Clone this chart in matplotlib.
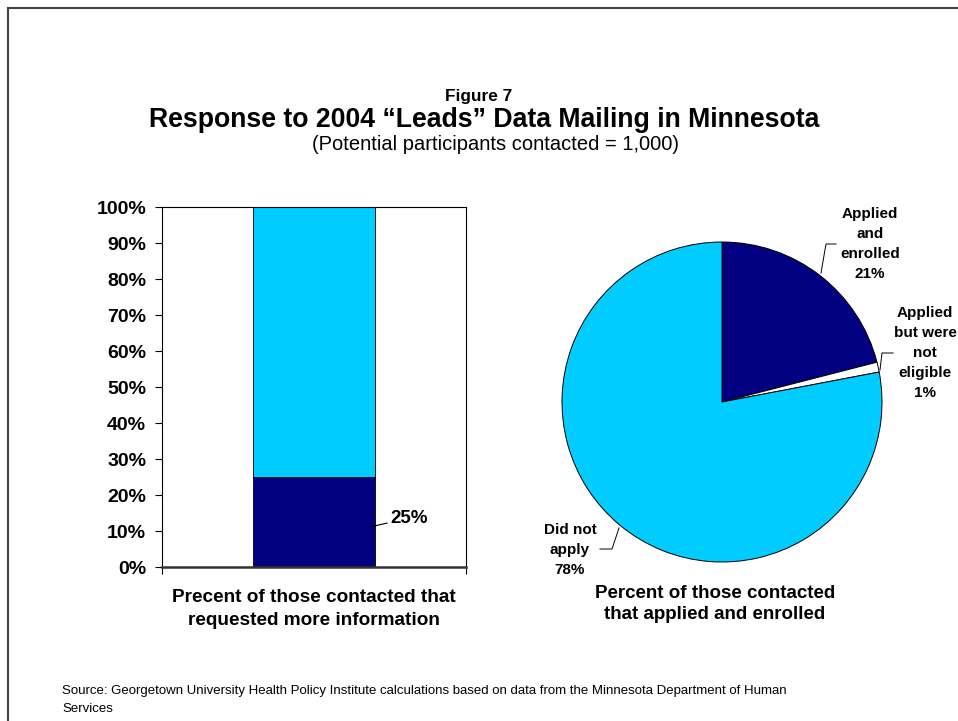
import matplotlib
matplotlib.use("Agg")
import matplotlib.pyplot as plt
from matplotlib.lines import Line2D

plt.rcParams['font.family'] = ['Liberation Sans', 'DejaVu Sans']

# Stacked bar: share of contacts requesting more information
bar_category = ["Precent of those contacted that\nrequested more information"]
requested_pct = [25]
not_requested_pct = [75]
y_ticks = [0, 10, 20, 30, 40, 50, 60, 70, 80, 90, 100]
y_tick_labels = [f"{t}%" for t in y_ticks]

# Pie: outcome of those contacted
pie_labels = ["Applied\nand\nenrolled\n21%", "Applied\nbut were\nnot\neligible\n1%", "Did not\napply\n78%"]
pie_values = [21, 1, 78]
pie_caption = "Percent of those contacted\nthat applied and enrolled"

NAVY = "#000080"
SKY = "#00CCFF"

W, H = 958, 721
fig = plt.figure(figsize=(W / 100, H / 100), dpi=100)

def fx(px):
    return px / W

def fy(py):
    return 1 - py / H

# Page frame (top and left edges)
fig.add_artist(Line2D([fx(8), 1], [fy(8), fy(8)], color="#444444", lw=1.5, transform=fig.transFigure))
fig.add_artist(Line2D([fx(8), fx(8)], [fy(8), 0], color="#444444", lw=1.5, transform=fig.transFigure))

# Titles
fig.text(fx(479), fy(97), "Figure 7", ha="center", va="center", fontsize=12.4, fontweight="bold")
fig.text(fx(484), fy(120), "Response to 2004 \u201cLeads\u201d Data Mailing in Minnesota",
         ha="center", va="center", fontsize=19.2, fontweight="bold")
fig.text(fx(496), fy(144), "(Potential participants contacted = 1,000)",
         ha="center", va="center", fontsize=14.5)

# ---- Bar chart ----
ax = fig.add_axes([fx(162), fy(567), fx(466) - fx(162), fy(207) - fy(567)])
x = [0]
ax.bar(x, requested_pct, width=0.4, color=NAVY, edgecolor="black", linewidth=0.6)
ax.bar(x, not_requested_pct, bottom=requested_pct, width=0.4, color=SKY,
       edgecolor="black", linewidth=0.6)
ax.set_xlim(-0.5, 0.5)
ax.set_ylim(0, 100)
ax.set_yticks(y_ticks)
ax.set_yticklabels(y_tick_labels, fontsize=14, fontweight="bold")
ax.tick_params(axis="y", direction="out", length=5, width=0.8, pad=6.5)
ax.set_xticks([-0.5, 0.5])
ax.set_xticklabels(["", ""])
ax.tick_params(axis="x", direction="out", length=5, width=0.8)
for side in ["top", "right", "left"]:
    ax.spines[side].set_linewidth(0.8)
ax.spines["bottom"].set_linewidth(1.8)
ax.spines["bottom"].set_color("#333333")
ax.annotate(f"{requested_pct[0]}%", xy=(0.184, requested_pct[0] * 0.444),
            xytext=(0.25, requested_pct[0] * 0.544), textcoords="data",
            fontsize=13.5, fontweight="bold", ha="left", va="center",
            arrowprops=dict(arrowstyle="-", color="black", lw=0.8, shrinkA=0, shrinkB=0),
            annotation_clip=False)
fig.text(fx(314), fy(609), bar_category[0], ha="center", va="center",
         fontsize=13.7, fontweight="bold", linespacing=1.45)

# ---- Pie chart ----
cx, cy, r = 722, 402, 160
pax = fig.add_axes([fx(cx - r), fy(cy + r), fx(2 * r), (2 * r) / H])
wedges, _ = pax.pie(pie_values, colors=[NAVY, "white", SKY], startangle=90,
                    counterclock=False, radius=1,
                    wedgeprops=dict(edgecolor="black", linewidth=0.7))
pax.set_xlim(-1, 1)
pax.set_ylim(-1, 1)
pax.set_axis_off()

def d(px, py):
    return ((px - cx) / r, (cy - py) / r)

label_style = dict(fontsize=11, fontweight="bold", ha="center", va="center",
                   linespacing=1.55)
# leader lines: (slice edge point, elbow, end) in pixels
leaders = [
    [(821, 273), (826, 244), (836, 244)],
    [(880, 370), (882, 353), (893, 353)],
    [(619, 528), (612, 549), (600, 549)],
]
label_pos = [(870, 244), (925, 353), (570, 550)]
for lab, (lx, ly), pts in zip(pie_labels, label_pos, leaders):
    xs, ys = zip(*[d(*p) for p in pts])
    pax.plot(xs, ys, color="black", lw=0.7, clip_on=False)
    pax.text(*d(lx, ly), lab, clip_on=False, **label_style)

fig.text(fx(715), fy(604), pie_caption, ha="center", va="center",
         fontsize=13.5, fontweight="bold", linespacing=1.35)

# Source note
fig.text(fx(62), fy(700), "Source: Georgetown University Health Policy Institute calculations based on data from the Minnesota Department of Human\nServices",
         ha="left", va="center", fontsize=9.5, linespacing=1.6)

fig.savefig("out.png", dpi=100)
